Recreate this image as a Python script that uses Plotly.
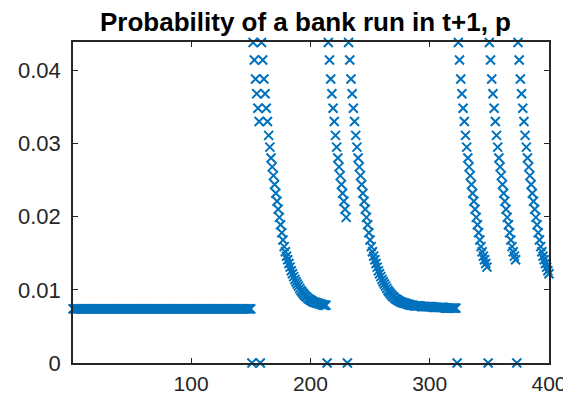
import plotly.graph_objects as go

# ---- data (one value per period, periods 1..400) ----
flat_p = [0.0074] * 150                      # periods 1-150, steady level
run_zero = [0.0]                             # a bank run period (p = 0)

seg_a = [0.0438, 0.0414, 0.0388, 0.0368, 0.0348, 0.0330]

seg_b = [0.0438, 0.0414, 0.0388, 0.0368, 0.0348, 0.0330, 0.0311, 0.0295, 0.0280, 0.0268,
         0.0256, 0.0244, 0.0232, 0.0221, 0.0210, 0.0199, 0.0189, 0.0178, 0.0168, 0.0159,
         0.0152, 0.0146, 0.0141, 0.0136, 0.0131, 0.0126, 0.0122, 0.0118, 0.0114, 0.0111,
         0.0108, 0.0105, 0.0102, 0.0099, 0.0097, 0.0095, 0.0093, 0.0091, 0.0090, 0.0088,
         0.0087, 0.0086, 0.0085, 0.0084, 0.0083, 0.0083, 0.0082, 0.0082, 0.0081, 0.0081,
         0.0080, 0.0080, 0.0079, 0.0079, 0.0079]

seg_c = [0.0438, 0.0414, 0.0388, 0.0368, 0.0348, 0.0330, 0.0311, 0.0295, 0.0280, 0.0268,
         0.0256, 0.0244, 0.0232, 0.0221, 0.0210, 0.0199]

seg_d = [0.0438, 0.0414, 0.0388, 0.0368, 0.0348, 0.0330, 0.0311, 0.0295, 0.0280, 0.0268,
         0.0256, 0.0244, 0.0232, 0.0221, 0.0210, 0.0199, 0.0189, 0.0178, 0.0168, 0.0159,
         0.0152, 0.0146, 0.0141, 0.0136, 0.0131, 0.0126, 0.0122, 0.0118, 0.0114, 0.0111,
         0.0108, 0.0105, 0.0102, 0.0099, 0.0097, 0.0095, 0.0093, 0.0091, 0.0090, 0.0088,
         0.0087, 0.0086, 0.0085, 0.0084, 0.0083, 0.0083, 0.0082, 0.0082, 0.0081, 0.0081,
         0.0080, 0.0080, 0.0079, 0.0079, 0.0079, 0.0078, 0.0078, 0.0078, 0.0078, 0.0078,
         0.0078, 0.0077, 0.0077, 0.0077, 0.0077, 0.0077, 0.0077, 0.0077, 0.0077, 0.0077,
         0.0077, 0.0076, 0.0076, 0.0076, 0.0076, 0.0076, 0.0076, 0.0076, 0.0076, 0.0076,
         0.0076, 0.0075, 0.0075, 0.0075, 0.0075, 0.0075, 0.0075, 0.0075, 0.0075, 0.0075,
         0.0075]

seg_e = [0.0438, 0.0414, 0.0388, 0.0368, 0.0348, 0.0330, 0.0311, 0.0295, 0.0280, 0.0268,
         0.0256, 0.0244, 0.0232, 0.0221, 0.0210, 0.0199, 0.0189, 0.0178, 0.0168, 0.0159,
         0.0152, 0.0146, 0.0141, 0.0136, 0.0131]

seg_f = [0.0438, 0.0414, 0.0388, 0.0368, 0.0348, 0.0330, 0.0311, 0.0295, 0.0280, 0.0268,
         0.0256, 0.0244, 0.0232, 0.0221, 0.0210, 0.0199, 0.0189, 0.0178, 0.0168, 0.0159,
         0.0152, 0.0146, 0.0141]

seg_g = [0.0438, 0.0414, 0.0388, 0.0368, 0.0348, 0.0330, 0.0311, 0.0295, 0.0280, 0.0268,
         0.0256, 0.0244, 0.0232, 0.0221, 0.0210, 0.0199, 0.0189, 0.0178, 0.0168, 0.0159,
         0.0152, 0.0146, 0.0141, 0.0136, 0.0131, 0.0126, 0.0122]

x_tick_vals = [100, 200, 300, 400]
x_tick_text = ["100", "200", "300", "400"]
y_tick_vals = [0, 0.01, 0.02, 0.03, 0.04]
y_tick_text = ["0", "0.01", "0.02", "0.03", "0.04"]
title_text = "Probability of a bank run in t+1, p"

# ---- assemble the series ----
p = (flat_p + run_zero + seg_a + run_zero + seg_b + run_zero + seg_c + run_zero +
     seg_d + run_zero + seg_e + run_zero + seg_f + run_zero + seg_g)
t = list(range(1, len(p) + 1))

fig = go.Figure(go.Scatter(
    x=t, y=p, mode="markers", cliponaxis=False,
    marker=dict(symbol="x-thin", size=9, color="#0072BD",
                line=dict(color="#0072BD", width=2)),
    showlegend=False,
))

axis_common = dict(
    showline=True, linecolor="#262626", linewidth=1.5, mirror="allticks",
    ticks="inside", ticklen=5, tickwidth=1.2, tickcolor="#262626",
    showgrid=False, zeroline=False, automargin=False,
)

fig.update_xaxes(range=[1, 400], tickvals=x_tick_vals, ticktext=x_tick_text,
                 ticklabelstandoff=1,
                 tickfont=dict(family="Liberation Sans, Arial, sans-serif", size=21, color="#262626"),
                 **axis_common)
fig.update_yaxes(range=[0, 0.04386], tickvals=y_tick_vals, ticktext=y_tick_text,
                 ticklabelstandoff=6,
                 tickfont=dict(family="Liberation Sans, Arial, sans-serif", size=22, color="#262626"),
                 **axis_common)

# the page body adds an 8px offset, so the figure is sized to fill the window from (8, 8)
W, H = 563, 392
fig.update_layout(
    width=W, height=H,
    margin=dict(l=65, r=22, t=34, b=37, autoexpand=False),
    paper_bgcolor="white", plot_bgcolor="white",
    title=dict(text="<b>" + title_text + "</b>", x=297.5 / W, xanchor="center",
               y=1 - 14 / H, yanchor="middle",
               font=dict(family="Liberation Sans, Arial, sans-serif", size=26, color="black")),
)

fig.write_html("out.html")
